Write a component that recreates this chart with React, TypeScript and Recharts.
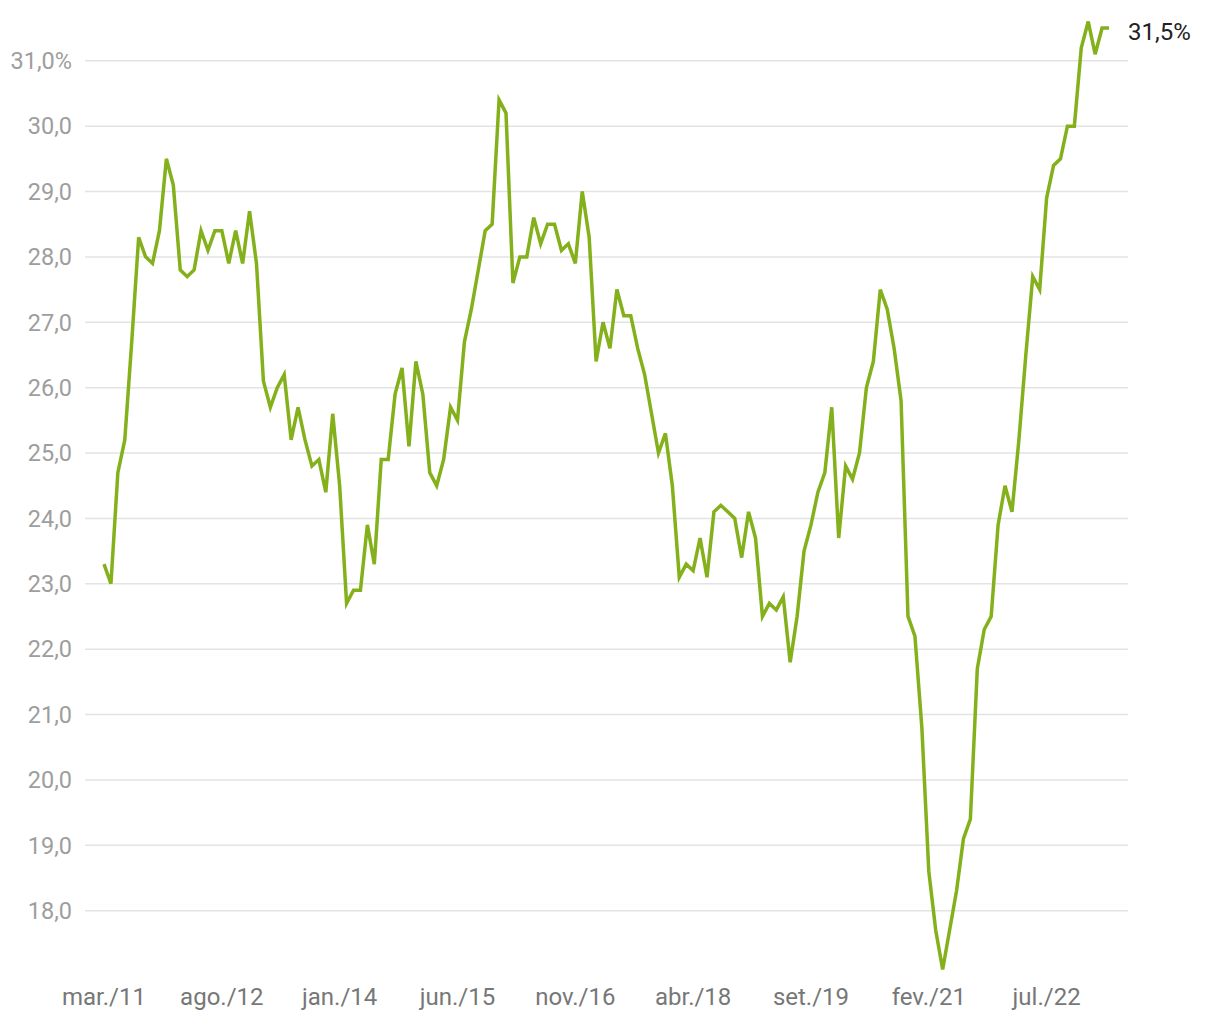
import { LineChart, Line, XAxis, YAxis, CartesianGrid } from 'recharts';

// meses abreviados (pt-BR)
const MESES = ['jan.', 'fev.', 'mar.', 'abr.', 'mai.', 'jun.', 'jul.', 'ago.', 'set.', 'out.', 'nov.', 'dez.'];

// série mensal, de mar./11 a abr./23 (%)
const VALORES = [
  23.3, 23.0, 24.7, 25.2, 26.7, 28.3, 28.0, 27.9, 28.4, 29.5,
  29.1, 27.8, 27.7, 27.8, 28.4, 28.1, 28.4, 28.4, 27.9, 28.4,
  27.9, 28.7, 27.9, 26.1, 25.7, 26.0, 26.2, 25.2, 25.7, 25.2,
  24.8, 24.9, 24.4, 25.6, 24.5, 22.7, 22.9, 22.9, 23.9, 23.3,
  24.9, 24.9, 25.9, 26.3, 25.1, 26.4, 25.9, 24.7, 24.5, 24.9,
  25.7, 25.5, 26.7, 27.2, 27.8, 28.4, 28.5, 30.4, 30.2, 27.6,
  28.0, 28.0, 28.6, 28.2, 28.5, 28.5, 28.1, 28.2, 27.9, 29.0,
  28.3, 26.4, 27.0, 26.6, 27.5, 27.1, 27.1, 26.6, 26.2, 25.6,
  25.0, 25.3, 24.5, 23.1, 23.3, 23.2, 23.7, 23.1, 24.1, 24.2,
  24.1, 24.0, 23.4, 24.1, 23.7, 22.5, 22.7, 22.6, 22.8, 21.8,
  22.5, 23.5, 23.9, 24.4, 24.7, 25.7, 23.7, 24.8, 24.6, 25.0,
  26.0, 26.4, 27.5, 27.2, 26.6, 25.8, 22.5, 22.2, 20.8, 18.6,
  17.7, 17.1, 17.7, 18.3, 19.1, 19.4, 21.7, 22.3, 22.5, 23.9,
  24.5, 24.1, 25.2, 26.5, 27.7, 27.5, 28.9, 29.4, 29.5, 30.0,
  30.0, 31.2, 31.6, 31.1, 31.5, 31.5,
];

const ROTULOS_X = ['mar./11', 'ago./12', 'jan./14', 'jun./15', 'nov./16', 'abr./18', 'set./19', 'fev./21', 'jul./22'];
const TICKS_Y = [18, 19, 20, 21, 22, 23, 24, 25, 26, 27, 28, 29, 30, 31];

const VERDE = '#84b01c';
const FONTE = 'Roboto, "Noto Sans", sans-serif';

const data = VALORES.map((v, i) => {
  const m = (2 + i) % 12;
  const ano = 11 + Math.floor((2 + i) / 12);
  return { mes: `${MESES[m]}/${String(ano).padStart(2, '0')}`, taxa: v };
});

const formatY = (v: number) => {
  const s = v.toFixed(1).replace('.', ',');
  return v === 31 ? `${s}%` : s;
};

// rótulo só no último ponto
function UltimoValor(props: any) {
  const { x, y, index, value } = props;
  if (index !== data.length - 1) return null;
  return (
    <text x={x + 19} y={y + 4} dominantBaseline="central" fontSize={24} fill="#222" fontFamily={FONTE}>
      {Number(value).toFixed(1).replace('.', ',')}%
    </text>
  );
}

export default function App() {
  return (
    <div style={{ position: 'absolute', left: 0, top: 0, background: '#fff' }}>
      <LineChart width={1220} height={1020} data={data} margin={{ top: 15, right: 92, bottom: 14, left: 0 }}>
        <CartesianGrid vertical={false} syncWithTicks stroke="#e3e3e3" strokeWidth={1.5} />
        <XAxis
          dataKey="mes"
          ticks={ROTULOS_X}
          interval={0}
          padding={{ left: 19, right: 19 }}
          axisLine={false}
          tickLine={false}
          tickSize={0}
          tickMargin={12}
          height={30}
          tick={{ fontSize: 24, fill: '#777', fontFamily: FONTE }}
        />
        <YAxis
          domain={[17, 31.7]}
          ticks={TICKS_Y}
          interval={0}
          width={85}
          axisLine={false}
          tickLine={false}
          tickSize={0}
          tickMargin={13}
          tickFormatter={formatY}
          tick={{ fontSize: 23.5, fill: '#9e9e9e', fontFamily: FONTE }}
        />
        <Line
          type="linear"
          dataKey="taxa"
          stroke={VERDE}
          strokeWidth={3.5}
          dot={false}
          isAnimationActive={false}
          label={<UltimoValor />}
        />
      </LineChart>
    </div>
  );
}
